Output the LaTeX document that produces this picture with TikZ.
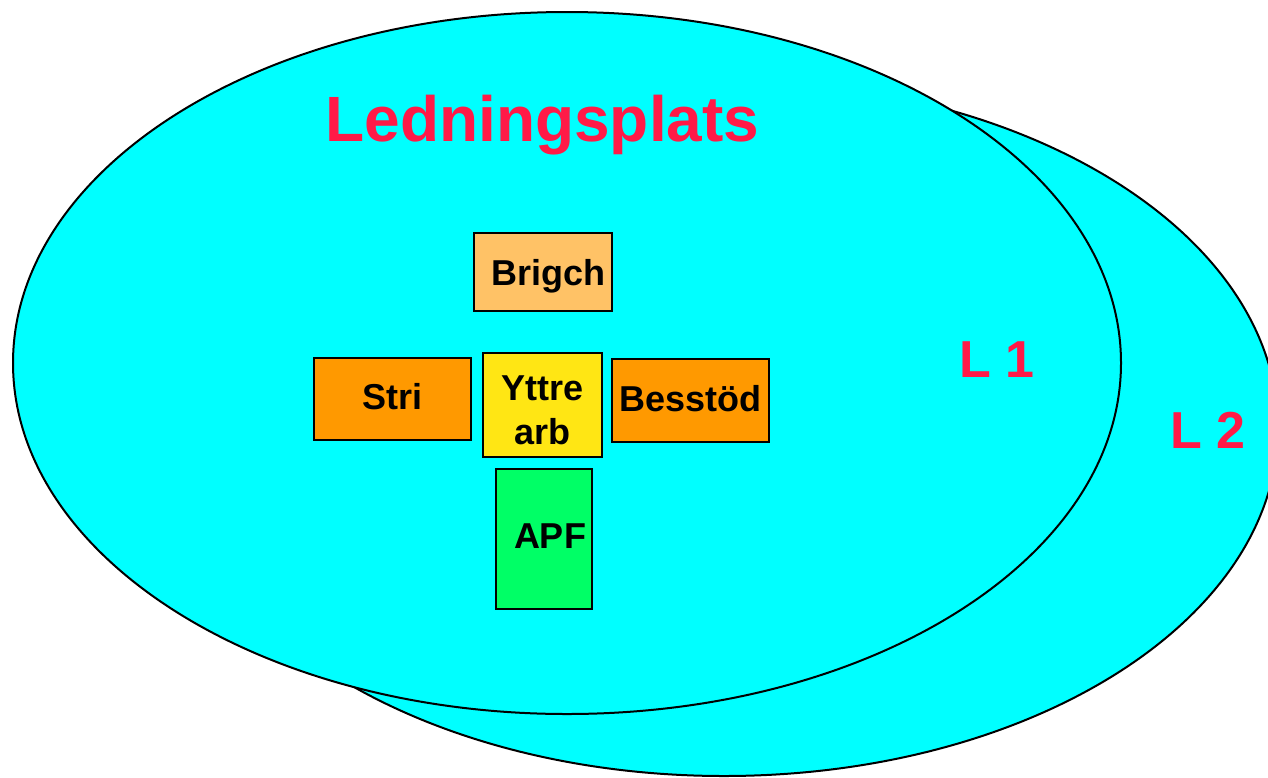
\documentclass[tikz,border=0pt]{standalone}
\usepackage{fontspec}
\setmainfont{Liberation Sans}
\definecolor{cyanfill}{RGB}{0,255,255}
\definecolor{titlered}{RGB}{255,26,71}
\definecolor{lightorange}{RGB}{255,194,102}
\definecolor{deeporange}{RGB}{255,153,0}
\definecolor{boxyellow}{RGB}{255,230,20}
\definecolor{boxgreen}{RGB}{0,255,102}
\begin{document}
\begin{tikzpicture}[x=1pt,y=-1pt,
  ellshape/.style={fill=cyanfill,draw=black,line width=2pt},
  unitbox/.style={draw=black,line width=2pt,rectangle,inner sep=0pt,
    font=\bfseries\fontsize{36}{44}\selectfont,text depth=0pt},
  bigtitle/.style={text=titlered,font=\bfseries\fontsize{64}{70}\selectfont,inner sep=0pt,anchor=base west},
  levellabel/.style={text=titlered,font=\bfseries\fontsize{52}{60}\selectfont,inner sep=0pt,anchor=base west}
]
\clip (0,0) rectangle (1268,777);
% back ellipse (L 2)
\draw[ellshape] (724,428) ellipse [x radius=554, y radius=348];
% front ellipse (L 1)
\draw[ellshape] (567,363) ellipse [x radius=554, y radius=351];

\node[bigtitle] (title) at (325.3,141.5) {Ledningsplats};
\node[levellabel] (l1) at (959.2,377) {L 1};
\node[levellabel] (l2) at (1170.2,448) {L 2};

\node[unitbox,fill=lightorange,minimum width=138pt,minimum height=78pt,text height=26pt] (brigch) at (543,272) {\hspace*{11pt}Brigch};
\node[unitbox,fill=deeporange,minimum width=157pt,minimum height=82pt,text height=20pt] (stri) at (392.5,399) {Stri};
\node[unitbox,fill=boxyellow,minimum width=119pt,minimum height=104pt,text height=78pt] (yttre) at (542.5,405) {\parbox[b]{119pt}{\centering Yttre\\arb}};
\node[unitbox,fill=deeporange,minimum width=157pt,minimum height=83pt,text height=21pt] (besstod) at (690.5,400.5) {Besstöd};
\node[unitbox,fill=boxgreen,minimum width=96pt,minimum height=140pt,text height=18pt] (apf) at (544,539) {\hspace*{12pt}APF};
\end{tikzpicture}
\end{document}
